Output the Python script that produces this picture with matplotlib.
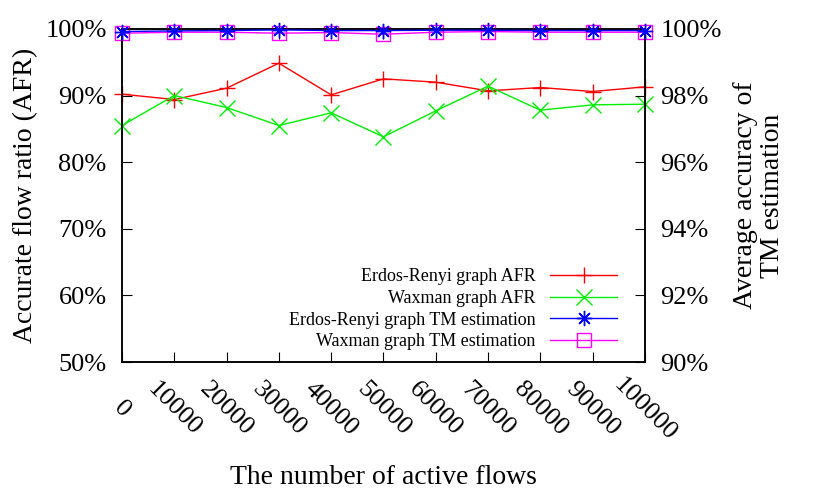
import numpy as np
import matplotlib
matplotlib.use("Agg")
import matplotlib.pyplot as plt


flows = [0, 10000, 20000, 30000, 40000, 50000, 60000, 70000, 80000, 90000, 100000]
er_afr = [90.2, 89.4, 91.1, 94.85, 90.1, 92.5, 92.0, 90.7, 91.2, 90.6, 91.3]
wax_afr = [85.5, 90.0, 88.2, 85.5, 87.4, 83.8, 87.7, 91.4, 87.8, 88.6, 88.7]
er_tm = [99.92, 99.94, 99.95, 99.97, 99.95, 99.95, 99.96, 99.96, 99.95, 99.95, 99.95]
wax_tm = [99.87, 99.90, 99.90, 99.87, 99.89, 99.84, 99.90, 99.92, 99.90, 99.90, 99.90]

plt.rcParams['font.family'] = ['Liberation Serif', 'DejaVu Serif']

fig = plt.figure(figsize=(8.3, 4.98), dpi=100)
ax = fig.add_axes([0.147, 0.273, 0.630, 0.669])
ax2 = ax.twinx()

l1, = ax.plot(flows, er_afr, color='#ff0000', lw=1, marker='+', ms=11, mew=1,
              label='Erdos-Renyi graph AFR', clip_on=False)
l2, = ax.plot(flows, wax_afr, color='#00ee00', lw=1, marker='x', ms=12, mew=1,
              label='Waxman graph AFR', clip_on=False)
l3, = ax2.plot(flows, er_tm, color='#0000ff', lw=1, marker=(8, 2, 0), ms=11, mew=1,
               label='Erdos-Renyi graph TM estimation', clip_on=False, zorder=3)
l4, = ax2.plot(flows, wax_tm, color='#ff00ff', lw=1, marker='s', ms=10, mew=1,
               fillstyle='none', label='Waxman graph TM estimation', clip_on=False,
               zorder=2)

ax.set_xlim(0, 100000)
ax.set_ylim(50, 100)
ax2.set_ylim(90, 100)

ax.set_xticks(flows)
ax.set_xticklabels([str(f) for f in flows], rotation=-45, ha='center', va='center',
                   rotation_mode='anchor', fontsize=19)
ax.set_yticks([50, 60, 70, 80, 90, 100])
ax.set_yticklabels(['%d%%' % v for v in [50, 60, 70, 80, 90, 100]], fontsize=19)
ax2.set_yticks([90, 92, 94, 96, 98, 100])
ax2.set_yticklabels(['%d%%' % v for v in [90, 92, 94, 96, 98, 100]], fontsize=19)

ax.tick_params(axis='x', direction='in', length=7, top=True, pad=34)
ax.tick_params(axis='y', direction='in', length=7, right=False, pad=11)
ax2.tick_params(axis='y', direction='in', length=7, pad=11)

ax.set_xlabel('The number of active flows', fontsize=20, va='center')
ax.xaxis.set_label_coords(0.5, -0.348)
ax.set_ylabel('Accurate flow ratio (AFR)', fontsize=20, va='center')
ax.yaxis.set_label_coords(-0.184, 0.5)
ax2.set_ylabel('Average accuracy of\nTM estimation', fontsize=20, va='center',
               linespacing=1.1)
ax2.yaxis.set_label_coords(1.218, 0.5)

for a in (ax, ax2):
    for s in a.spines.values():
        s.set_linewidth(1.1)

leg = ax.legend(handles=[l1, l2, l3, l4], loc='lower right', frameon=False,
                fontsize=13, markerfirst=False, handlelength=3.7,
                handletextpad=0.8, labelspacing=0.26, borderpad=0,
                borderaxespad=0, bbox_to_anchor=(0.9465, 0.035))

fig.savefig('out.png', dpi=100)
